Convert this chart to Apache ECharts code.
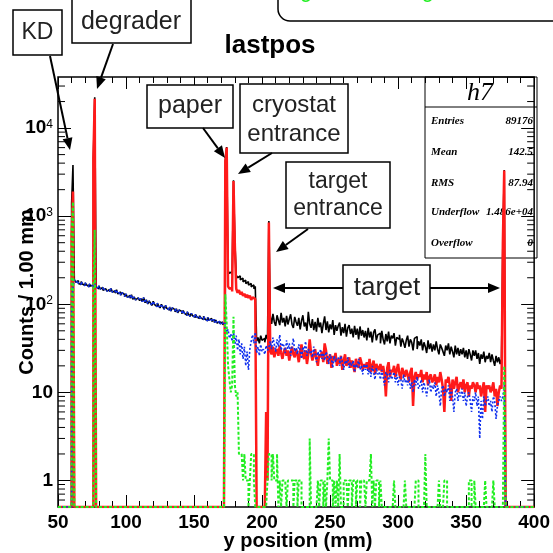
<!DOCTYPE html>
<html><head><meta charset="utf-8">
<script src="https://cdn.jsdelivr.net/npm/echarts@6/dist/echarts.min.js"></script>
<style>html,body{margin:0;padding:0;background:#fff}#c{width:553px;height:553px}</style>
</head><body><div id="c"></div>
<script>
// ---- histogram binning: 1 mm bins from 50 to 400 mm ----
const binLow = 50, binWidth = 1;
const xTickValues = [50, 100, 150, 200, 250, 300, 350, 400];
const yDecadeLabels = [1, 10, 100, 1000, 10000];
const Y_FLOOR = 0.5, Y_TOP = 38000;

// black: all particles (counts per 1 mm bin, bins 50..399)
const blackCounts = [
0,0,0,0,0,0,0,0,0,0,
1400,3800,190,178,185,172,168,181,170,163,
175,166,158,170,161,165,4600,22400,158,150,
162,149,155,144,150,158,141,147,139,151,
137,143,134,146,131,138,127,135,129,122,
131,120,126,117,128,114,121,112,118,124,
110,116,107,119,104,112,101,109,103,97,
108,99,94,103,96,91,100,94,88,97,
90,86,93,84,91,87,82,89,80,86,
83,78,85,79,75,82,77,73,79,74,
71,77,72,69,74,70,67,73,68,65,
71,66,69,64,67,62,66,61,64,60,
63,59,61,4300,6100,240,225,235,215,2550,
520,215,200,210,190,198,180,188,172,180,
165,172,158,166,150,160,38,42,36,44,
39,41,37,45,40,880,74,60,78,63,
57,75,66,58,80,62,70,56,74,59,
68,77,59,54,72,63,57,70,52,65,
75,56,62,50,82,60,54,68,51,63,
49,70,55,62,47,60,73,51,64,48,
59,52,66,45,58,50,57,62,44,55,
47,60,43,54,58,46,53,42,57,45,
53,40,56,44,51,42,50,39,54,42,
49,37,48,52,39,45,47,36,50,40,
35,46,38,49,36,44,41,47,34,42,
40,45,33,41,37,32,39,44,33,40,
37,30,41,43,31,38,34,40,30,37,
33,28,39,31,36,29,35,30,38,31,
27,35,32,29,26,34,30,36,27,33,
29,25,34,27,32,26,31,27,32,25,
30,24,31,27,23,30,26,30,24,28,
21,27,24,29,22,26,24,28,22,27,
23,20,26,22,25,21,24,520,3350,0,
0,0,0,0,0,0,0,0,0,0,
0,0,0,0,0,0,0,0,0,0
];

// red
const redCounts = [
0,0,0,0,0,0,0,0,0,0,
600,1900,0,0,0,0,0,0,0,0,
0,0,0,0,0,0,4500,21500,0,0,
0,0,0,0,0,0,0,0,0,0,
0,0,0,0,0,0,0,0,0,0,
0,0,0,0,0,0,0,0,0,0,
0,0,0,0,0,0,0,0,0,0,
0,0,0,0,0,0,0,0,0,0,
0,0,0,0,0,0,0,0,0,0,
0,0,0,0,0,0,0,0,0,0,
0,0,0,0,0,0,0,0,0,0,
0,0,0,0,0,0,0,0,0,0,
0,0,0,4200,6000,160,150,155,140,2500,
460,150,135,145,130,138,125,132,120,128,
118,125,112,120,115,110,0,0,0,0,
0,0,0,6,1,850,30,27,33,25,
29,31,26,34,28,24,29,32,26,30,
23,28,33,27,25,31,27,22,29,35,
26,24,30,21,27,40,28,23,26,31,
24,20,27,25,29,22,36,30,21,24,
27,19,26,23,28,20,24,21,26,18,
23,27,20,22,25,19,23,20,17,24,
21,19,25,22,18,21,19,22,18,24,
17,20,23,16,21,19,18,21,17,20,
16,9,19,22,15,18,17,20,15,18,
21,16,14,19,17,15,18,16,13,17,
19,7,15,17,14,16,15,18,13,16,
14,17,12,15,16,13,14,16,12,15,
13,17,14,11,6,14,13,15,12,8,
14,11,13,15,10,12,13,11,14,10,
12,13,9,12,11,13,12,10,13,11,
12,9,11,13,6,12,11,12,10,11,
13,9,11,7,10,12,11,500,3300,0,
0,0,0,0,0,0,0,0,0,0,
0,0,0,0,0,0,0,0,0,0
];

// blue (dotted)
const blueCounts = [
0,0,0,0,0,0,0,0,0,0,
100,160,190,178,185,172,168,181,170,163,
175,166,158,170,161,165,155,170,158,150,
162,149,155,144,150,158,141,147,139,151,
137,143,134,146,131,138,127,135,129,122,
131,120,126,117,128,114,121,112,118,124,
110,116,107,119,104,112,101,109,103,97,
108,99,94,103,96,91,100,94,88,97,
90,86,93,84,91,87,82,89,80,86,
83,78,85,79,75,82,77,73,79,74,
71,77,72,69,74,70,67,73,68,65,
71,66,69,64,67,62,66,61,64,60,
63,59,61,55,48,52,41,46,38,50,
35,44,30,40,27,36,24,33,20,29,
18,31,38,45,36,48,28,33,26,35,
29,31,27,34,30,32,38,31,42,35,
29,40,33,45,30,36,34,28,39,31,
36,26,33,41,29,32,27,35,30,24,
33,29,38,26,31,28,30,25,33,27,
22,29,26,31,24,28,23,29,26,21,
27,24,19,26,22,25,24,20,26,22,
18,23,21,25,19,22,20,23,17,21,
19,24,18,20,16,21,18,21,16,19,
15,20,17,14,19,16,17,14,18,15,
12,17,16,13,18,14,15,17,13,16,
12,15,14,11,16,13,14,12,15,11,
13,10,14,12,15,11,12,14,10,13,
11,9,12,14,10,12,11,13,9,12,
10,7,11,12,9,11,10,12,8,11,
9,6,10,11,8,10,9,11,8,10,
7,9,10,8,6,9,8,10,7,9,
3,8,5,9,7,8,9,7,8,6,
9,8,5,7,8,9,8,9,12,0,
0,0,0,0,0,0,0,0,0,0,
0,0,0,0,0,0,0,0,0,0
];

// green (dotted)
const greenCounts = [
0,0,0,0,0,0,0,0,0,0,
650,1450,0,0,0,0,0,0,0,0,
0,0,0,0,0,0,150,700,0,0,
0,0,0,0,0,0,0,0,0,0,
0,0,0,0,0,0,0,0,0,0,
0,0,0,0,0,0,0,0,0,0,
0,0,0,0,0,0,0,0,0,0,
0,0,0,0,0,0,0,0,0,0,
0,0,0,0,0,0,0,0,0,0,
0,0,0,0,0,0,0,0,0,0,
0,0,0,0,0,0,0,0,0,0,
0,0,0,0,0,0,0,0,0,0,
0,0,0,130,60,20,14,10,12,72,
12,9,10,2,2,2,1,2,1,1,
0,1,2,2,1,0,0,0,0,0,
0,0,0,0,1,2,2,1,2,1,
1,2,0,1,0,1,1,1,0,1,
1,1,1,0,1,1,0,1,1,0,
0,0,0,0,0,3,0,0,0,0,
0,1,0,1,1,0,1,0,1,3,
1,1,0,1,0,1,0,2,0,0,
1,1,1,0,1,1,0,1,1,0,
1,1,0,1,1,1,0,1,1,1,
2,0,1,0,1,1,0,1,0,0,
0,0,0,0,0,0,0,1,0,0,
0,0,0,0,0,1,0,0,0,0,
0,0,0,1,1,0,0,0,0,0,
2,0,0,0,0,0,0,0,0,0,
1,0,0,0,1,1,0,0,0,0,
0,0,0,0,0,0,0,0,0,0,
0,0,1,1,0,0,1,0,0,0,
0,0,0,0,1,0,0,0,0,0,
1,0,0,0,0,0,0,0,20,0,
0,0,0,0,0,0,0,0,0,0,
0,0,0,0,0,0,0,0,0,0
];

// stats box
const statNames = ['Entries', 'Mean', 'RMS', 'Underflow', 'Overflow'];
const statValues = ['89176', '142.5', '87.94', '1.486e+04', '0'];

const X_MIN = binLow, X_MAX = binLow + blackCounts.length * binWidth;
const FONT = '"Liberation Sans", Arial, Helvetica, sans-serif';
const SERIF = '"Liberation Serif", "Times New Roman", serif';

// histogram outline: point at each bin's low edge, step at bin end; empty bins sit on the frame floor
function steps(counts) {
  const d = counts.map((c, i) => [binLow + i * binWidth, c > 0 ? c : Y_FLOOR]);
  d.push([X_MAX, d[d.length - 1][1]]);
  return d;
}

const minorYTicks = [];
for (let e = -1; e <= 4; e++) for (let m = 2; m <= 9; m++) {
  const v = m * Math.pow(10, e);
  if (v > Y_FLOOR && v < Y_TOP) minorYTicks.push([X_MIN, v]);
}

function histSeries(name, counts, color, width, dash) {
  return {
    name, type: 'line', data: steps(counts), step: 'end', showSymbol: false, symbol: 'none',
    lineStyle: { color, width, type: dash || 'solid' }, animation: false, silent: true, clip: true
  };
}

const chart = echarts.init(document.getElementById('c'), null, { renderer: 'canvas', width: 553, height: 553 });

// ---- annotations (boxes, text, arrows) ----
const g = [];
function box(x, y, w, h, r) {
  g.push({ type: 'rect', shape: { x, y, width: w, height: h, r: r || 0 }, style: { fill: '#fff', stroke: '#000', lineWidth: 1.5 }, z: 100 });
}
function txt(x, y, text, size, opt) {
  opt = opt || {};
  g.push({ type: 'text', x, y, rotation: opt.rot || 0, z: 101,
    style: { text, fontSize: size, fontFamily: opt.family || FONT, fontWeight: opt.weight || 'normal', fontStyle: opt.style || 'normal',
      fill: opt.color || '#222', align: opt.align || 'center', verticalAlign: opt.va || 'middle' } });
}
function arrow(x1, y1, x2, y2) {
  const L = 12, W = 5, a = Math.atan2(y2 - y1, x2 - x1);
  const bx = x2 - L * Math.cos(a), by = y2 - L * Math.sin(a);
  const px = -Math.sin(a) * W, py = Math.cos(a) * W;
  g.push({ type: 'line', shape: { x1, y1, x2: bx, y2: by }, style: { stroke: '#000', lineWidth: 2 }, z: 100 });
  g.push({ type: 'polygon', shape: { points: [[x2, y2], [bx + px, by + py], [bx - px, by - py]] }, style: { fill: '#000' }, z: 100 });
}

// top-right note box (mostly cut off)
box(278, -25, 320, 46, 12);
txt(300, 2, 'green : n + light reason', 22, { color: '#22ee22', align: 'left', va: 'bottom' });

box(13, 10, 49, 45); txt(37.5, 33, 'KD', 23);
arrow(50, 56, 70, 150);
box(72, -5, 119, 48); txt(131, 22, 'degrader', 25);
arrow(113, 44, 97, 89);
box(147, 85, 86, 43); txt(190, 106, 'paper', 25);
arrow(203, 128, 225, 158);
box(240, 84, 108, 69); txt(294, 105, 'cryostat', 24); txt(294, 134, 'entrance', 24);
arrow(272, 153, 238, 174);
box(286, 162, 104, 66); txt(338, 182, 'target', 23); txt(338, 209, 'entrance', 23);
arrow(308, 229, 276, 252);
box(343, 265, 87, 47); txt(387, 288, 'target', 26);
arrow(343, 288, 273, 288);
arrow(430, 288, 500, 288);

// title and axis titles
txt(270, 46, 'lastpos', 26, { weight: 'bold', color: '#000' });
txt(298, 541, 'y position (mm)', 20, { weight: 'bold', color: '#000' });
txt(27, 292, 'Counts / 1.00 mm', 20, { weight: 'bold', color: '#000', rot: Math.PI / 2 });

// stats box (transparent, under the histograms)
g.push({ type: 'rect', shape: { x: 425, y: 77, width: 112, height: 181 }, style: { fill: 'none', stroke: '#000', lineWidth: 1 }, z: 1 });
g.push({ type: 'line', shape: { x1: 425, y1: 107, x2: 537, y2: 107 }, style: { stroke: '#000', lineWidth: 1 }, z: 1 });
g.push({ type: 'text', x: 480, y: 93, z: 1, style: { text: 'h7', fontSize: 26, fontFamily: SERIF, fontStyle: 'italic', fill: '#000', align: 'center', verticalAlign: 'middle' } });
const statY = [121, 152, 183, 212, 243];
statNames.forEach((n, i) => {
  g.push({ type: 'text', x: 431, y: statY[i], z: 1, style: { text: n, fontSize: 11, fontFamily: SERIF, fontStyle: 'italic', fontWeight: 'bold', fill: '#000', align: 'left', verticalAlign: 'middle' } });
  g.push({ type: 'text', x: 533, y: statY[i], z: 1, style: { text: statValues[i], fontSize: 11, fontFamily: SERIF, fontStyle: 'italic', fontWeight: 'bold', fill: '#000', align: 'right', verticalAlign: 'middle' } });
});

const tickLabelStyle = { fontSize: 19, fontWeight: 'bold', fontFamily: FONT, color: '#000' };

const option = {
  animation: false,
  backgroundColor: '#fff',
  grid: { left: 58, right: 15, top: 77, bottom: 46, show: true, borderColor: '#000', borderWidth: 1.5, backgroundColor: 'transparent' },
  xAxis: [
    { type: 'value', min: X_MIN, max: X_MAX, interval: 50, position: 'bottom',
      axisLine: { show: false }, splitLine: { show: false },
      axisTick: { inside: true, length: 12, lineStyle: { color: '#000', width: 1 } },
      minorTick: { show: true, splitNumber: 5, length: 6, lineStyle: { color: '#000', width: 1 } },
      axisLabel: Object.assign({ margin: 6, showMinLabel: true, showMaxLabel: true,
        formatter: v => xTickValues.includes(v) ? String(v) : '' }, tickLabelStyle) },
    { type: 'value', min: X_MIN, max: X_MAX, interval: 50, position: 'top',
      axisLine: { show: false }, splitLine: { show: false }, axisLabel: { show: false },
      axisTick: { inside: true, length: 12, lineStyle: { color: '#000', width: 1 } },
      minorTick: { show: true, splitNumber: 5, length: 6, lineStyle: { color: '#000', width: 1 } } }
  ],
  yAxis: [
    { type: 'log', logBase: 10, min: Y_FLOOR, max: Y_TOP, position: 'left',
      axisLine: { show: false }, splitLine: { show: false },
      axisTick: { inside: true, length: 13, lineStyle: { color: '#000', width: 1 } },
      axisLabel: { margin: 5, showMinLabel: false, showMaxLabel: false,
        formatter: function (v) {
          const hit = yDecadeLabels.find(d => Math.abs(d - v) < 1e-6 * d);
          if (hit === undefined) return '';
          const e = Math.round(Math.log10(hit));
          if (e <= 1) return '{b|' + hit + '}';
          return '{b|10}{s|' + e + '}';
        },
        rich: { b: tickLabelStyle, s: { fontSize: 12, fontFamily: FONT, color: '#000', verticalAlign: 'top', padding: [0, 0, 6, 0] } } } },
    { type: 'log', logBase: 10, min: Y_FLOOR, max: Y_TOP, position: 'right',
      axisLine: { show: false }, splitLine: { show: false }, axisLabel: { show: false },
      axisTick: { inside: true, length: 13, lineStyle: { color: '#000', width: 1 } } }
  ],
  series: [
    histSeries('all', blackCounts, '#000000', 1.6),
    histSeries('red', redCounts, '#ff1a1a', 2.5),
    histSeries('blue', blueCounts, '#1030ee', 1.6, [2, 2]),
    histSeries('green', greenCounts, '#22ee22', 2, [3, 2]),
    { type: 'custom', data: minorYTicks, encode: { x: 0, y: 1 }, silent: true, clip: false, z: 5,
      renderItem: function (params, api) {
        const p = api.coord([X_MIN, api.value(1)]);
        const q = api.coord([X_MAX, api.value(1)]);
        return { type: 'group', children: [
          { type: 'line', shape: { x1: p[0], y1: p[1], x2: p[0] + 7, y2: p[1] }, style: { stroke: '#000', lineWidth: 1 } },
          { type: 'line', shape: { x1: q[0], y1: q[1], x2: q[0] - 7, y2: q[1] }, style: { stroke: '#000', lineWidth: 1 } }
        ] };
      } }
  ],
  graphic: g
};
chart.setOption(option);
</script>
</body></html>
